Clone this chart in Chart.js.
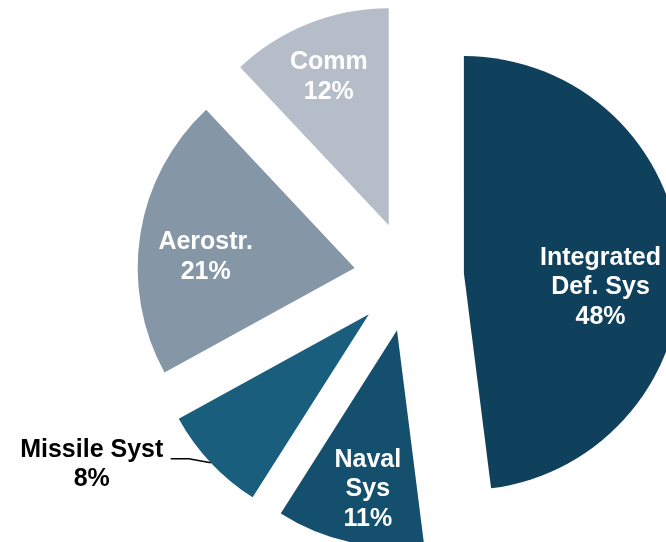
<!DOCTYPE html>
<html>
<head>
<meta charset="utf-8">
<script src="https://cdn.jsdelivr.net/npm/chart.js@4/dist/chart.umd.min.js"></script>
<style>
  html, body { margin: 0; padding: 0; background: #ffffff; overflow: hidden; }
  canvas { display: block; }
</style>
</head>
<body>
<canvas id="c" width="666" height="542"></canvas>
<script>
// ---- data ----
const categories = ['Integrated Def. Sys', 'Naval Sys', 'Missile Syst', 'Aerostr.', 'Comm'];
const nameLines = [['Integrated', 'Def. Sys'], ['Naval', 'Sys'], ['Missile Syst'], ['Aerostr.'], ['Comm']];
const shares = [48, 11, 8, 21, 12];
const percentLabels = ['48%', '11%', '8%', '21%', '12%'];

// ---- styles / layout ----
const sliceColors = ['#0f405c', '#14506e', '#1a5e7e', '#8597a7', '#b5bec8'];
const labelColors = ['#ffffff', '#ffffff', '#000000', '#ffffff', '#ffffff'];
const outsideLabel = [false, false, true, false, false];
const labelNudge = [[-15, 24], [4, 11], [-119, 2], [1, 13], [-4, -7]];
const EXPLODE = 55;
const PIE_RADIUS = 217;
const LABEL_FRAC = 0.7;
const LINE_H = 29.5;
const FONT = 'bold 25px "Liberation Sans", Arial, sans-serif';

// exploded slices: shift each arc outward along its bisector
const baseArcDraw = Chart.ArcElement.prototype.draw;
Chart.ArcElement.prototype.draw = function (ctx) {
  const a = (this.startAngle + this.endAngle) / 2;
  ctx.save();
  ctx.translate(Math.cos(a) * EXPLODE, Math.sin(a) * EXPLODE);
  baseArcDraw.call(this, ctx);
  ctx.restore();
};

const labelPlugin = {
  id: 'sliceLabels',
  afterDatasetsDraw(chart) {
    const ctx = chart.ctx;
    const meta = chart.getDatasetMeta(0);
    ctx.save();
    ctx.font = FONT;
    ctx.textAlign = 'center';
    ctx.textBaseline = 'middle';
    meta.data.forEach((arc, i) => {
      const a = (arc.startAngle + arc.endAngle) / 2;
      const ca = Math.cos(a), sa = Math.sin(a);
      const ax = arc.x + ca * EXPLODE, ay = arc.y + sa * EXPLODE;
      let px, py;
      if (outsideLabel[i]) {
        const ox = ax + ca * arc.outerRadius, oy = ay + sa * arc.outerRadius;
        ctx.strokeStyle = '#000000';
        ctx.lineWidth = 1.6;
        ctx.beginPath();
        ctx.moveTo(ox, oy);
        ctx.lineTo(ox - 22, oy - 4);
        ctx.lineTo(ox - 40, oy - 4);
        ctx.stroke();
        px = ox + labelNudge[i][0];
        py = oy + labelNudge[i][1];
      } else {
        px = ax + ca * arc.outerRadius * LABEL_FRAC + labelNudge[i][0];
        py = ay + sa * arc.outerRadius * LABEL_FRAC + labelNudge[i][1];
      }
      const lines = nameLines[i].concat([percentLabels[i]]);
      const top = py - (lines.length - 1) * LINE_H / 2;
      ctx.fillStyle = labelColors[i];
      lines.forEach((t, k) => ctx.fillText(t, px, top + k * LINE_H));
    });
    ctx.restore();
  }
};

new Chart(document.getElementById('c'), {
  type: 'pie',
  data: {
    labels: categories,
    datasets: [{
      data: shares,
      backgroundColor: sliceColors,
      borderWidth: 0,
      radius: PIE_RADIUS,
      clip: false
    }]
  },
  options: {
    responsive: false,
    animation: false,
    layout: { padding: { left: 152, top: 11, right: 0, bottom: 0 } },
    plugins: {
      legend: { display: false },
      tooltip: { enabled: false }
    }
  },
  plugins: [labelPlugin]
});
</script>
</body>
</html>
